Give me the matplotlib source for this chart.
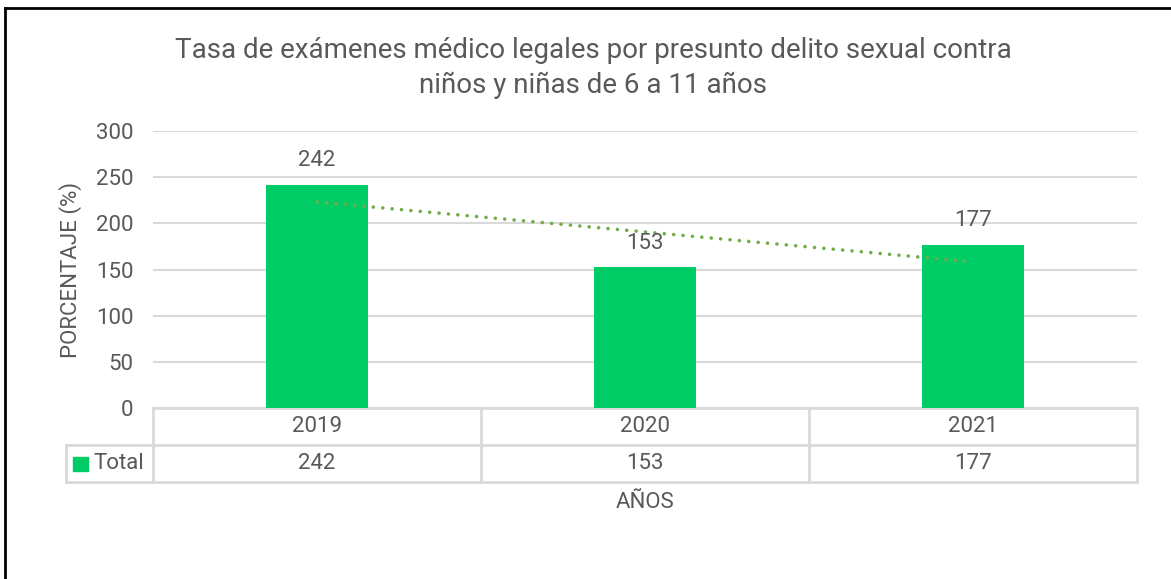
import numpy as np
import matplotlib.pyplot as plt
from matplotlib.lines import Line2D
from matplotlib.patches import Rectangle

plt.rcParams['font.family'] = ['Roboto', 'DejaVu Sans']

anios = ['2019', '2020', '2021']
total = [242, 153, 177]

gris = '#595959'
linea = '#d9d9d9'
verde = '#00CC66'

W, H = 1171, 579
fig = plt.figure(figsize=(W / 100, H / 100), dpi=100)

# borde negro del recuadro (solo izquierda y arriba visibles)
fig.add_artist(Line2D([5 / W, 5 / W], [0, 1 - 8 / H], color='black', lw=2))
fig.add_artist(Line2D([5 / W, 1], [1 - 8 / H, 1 - 8 / H], color='black', lw=2))

x0, x1 = 153, 1137
y0, y1 = 131, 408
ax = fig.add_axes([x0 / W, 1 - y1 / H, (x1 - x0) / W, (y1 - y0) / H])

x = np.arange(len(anios))
ax.bar(x, total, width=0.31, color=verde, zorder=3)

# linea de tendencia (ajuste lineal)
p = np.polyfit(x, total, 1)
ax.plot(x, np.polyval(p, x), color='#70AD47', lw=2.6, ls=(0, (0.01, 2.6)),
        dash_capstyle='round', zorder=4)

for xi, v in zip(x, total):
    ax.annotate(str(v), (xi, v), xytext=(0, 17), textcoords='offset points',
                ha='center', va='center', fontsize=16, color=gris, zorder=5)

ax.set_xlim(-0.5, 2.5)
ax.set_ylim(0, 300)
ax.set_yticks(range(0, 301, 50))
ax.yaxis.grid(True, color=linea, lw=1.5)
ax.set_axisbelow(True)
ax.set_xticks([])
for s in ax.spines.values():
    s.set_visible(False)
ax.tick_params(axis='y', length=0, labelsize=16, labelcolor=gris, pad=14)
ax.set_ylabel('PORCENTAJE (%)', fontsize=16, color=gris, labelpad=10)

# tabla de datos debajo
r1 = -37 / (y1 - y0)
r2 = -74 / (y1 - y0)
xl = (66 - x0) / (x1 - x0)
tr = ax.transAxes
kw = dict(color=linea, lw=2, transform=tr, clip_on=False)
ax.add_line(Line2D([0, 1], [0, 0], **kw))
ax.add_line(Line2D([xl, 1], [r1, r1], **kw))
ax.add_line(Line2D([xl, 1], [r2, r2], **kw))
ax.add_line(Line2D([xl, xl], [r1, r2], **kw))
for i in range(len(anios) + 1):
    xc = i / len(anios)
    ax.add_line(Line2D([xc, xc], [0, r2], **kw))

for i, (a, v) in enumerate(zip(anios, total)):
    xc = (i + 0.5) / len(anios)
    ax.text(xc, r1 / 2, a, transform=tr, ha='center', va='center',
            fontsize=16, color=gris)
    ax.text(xc, (r1 + r2) / 2, str(v), transform=tr, ha='center', va='center',
            fontsize=16, color=gris)

ym = (r1 + r2) / 2
ax.add_patch(Rectangle(((73 - x0) / (x1 - x0), ym - 7 / (y1 - y0)),
                       15 / (x1 - x0), 14 / (y1 - y0),
                       transform=tr, color=verde, clip_on=False))
ax.text((93 - x0) / (x1 - x0), ym, 'Total', transform=tr, ha='left',
        va='center', fontsize=16, color=gris)

fig.text(645 / W, 1 - 503 / H, 'AÑOS', ha='center', va='center',
         fontsize=16, color=gris)

fig.text(593 / W, 1 - 68 / H,
         'Tasa de exámenes médico legales por presunto delito sexual contra\n'
         'niños y niñas de 6 a 11 años',
         ha='center', va='center', fontsize=20, color=gris, linespacing=1.4)

fig.savefig('out.png', dpi=100)
